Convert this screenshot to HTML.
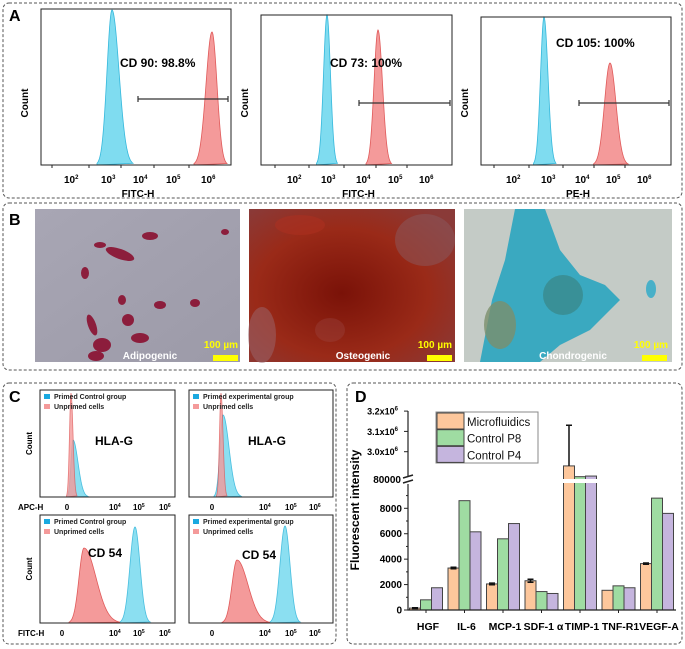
<!DOCTYPE html>
<html><head><meta charset="utf-8"><style>
html,body{margin:0;padding:0;background:#fff}
svg{display:block;font-family:"Liberation Sans",Arial,sans-serif}
.b{font-weight:bold}
</style></head><body>
<svg id="fig" width="685" height="649" viewBox="0 0 685 649">
<defs>
<radialGradient id="osteo" cx="45%" cy="55%" r="70%"><stop offset="0" stop-color="#7a1208"/><stop offset="0.6" stop-color="#9a2a18"/><stop offset="1" stop-color="#8a3a38"/></radialGradient>
<linearGradient id="adipo" x1="0" y1="0" x2="1" y2="1"><stop offset="0" stop-color="#a8a6b4"/><stop offset="1" stop-color="#9c9aa8"/></linearGradient>
</defs>
<rect x="3" y="3" width="679" height="195" rx="6" fill="none" stroke="#555" stroke-dasharray="3,2"/>
<rect x="3" y="203" width="679" height="167" rx="6" fill="none" stroke="#555" stroke-dasharray="3,2"/>
<rect x="3" y="383" width="333" height="261" rx="6" fill="none" stroke="#555" stroke-dasharray="3,2"/>
<rect x="347" y="383" width="335" height="261" rx="6" fill="none" stroke="#555" stroke-dasharray="3,2"/>
<text x="9" y="21" font-size="16" class="b">A</text>
<text x="9" y="225" font-size="16" class="b">B</text>
<text x="9" y="402" font-size="16" class="b">C</text>
<text x="355" y="402" font-size="16" class="b">D</text>

<g>
<rect x="35" y="209" width="205" height="153" fill="url(#adipo)"/>
<g fill="#8a1030" opacity="0.9">
<ellipse cx="150" cy="236" rx="8" ry="4"/><ellipse cx="120" cy="254" rx="15" ry="5" transform="rotate(20 120 254)"/><ellipse cx="85" cy="273" rx="4" ry="6"/>
<ellipse cx="92" cy="325" rx="4" ry="11" transform="rotate(-20 92 325)"/><ellipse cx="128" cy="320" rx="6" ry="6"/><ellipse cx="140" cy="338" rx="9" ry="5"/>
<ellipse cx="160" cy="305" rx="6" ry="4"/><ellipse cx="102" cy="345" rx="9" ry="7"/><ellipse cx="96" cy="356" rx="8" ry="5"/><ellipse cx="122" cy="300" rx="4" ry="5"/>
<ellipse cx="195" cy="303" rx="5" ry="4"/><ellipse cx="225" cy="232" rx="4" ry="3"/><ellipse cx="100" cy="245" rx="6" ry="3"/></g>
</g>
<g>
<rect x="249" y="209" width="206" height="153" fill="url(#osteo)"/>
<ellipse cx="425" cy="240" rx="30" ry="26" fill="#8a5a60" opacity="0.5"/>
<ellipse cx="262" cy="335" rx="14" ry="28" fill="#9a6870" opacity="0.5"/>
<ellipse cx="330" cy="330" rx="15" ry="12" fill="#a05050" opacity="0.3"/>
<ellipse cx="300" cy="225" rx="25" ry="10" fill="#b03020" opacity="0.5"/>
</g>
<g>
<rect x="464" y="209" width="208" height="153" fill="#c4cbc6"/>
<path d="M480,362 L492,300 L505,260 L515,209 L545,209 L560,250 L580,275 L605,285 L620,300 L590,330 L560,345 L540,362 Z" fill="#3aa9c0"/>
<ellipse cx="500" cy="325" rx="16" ry="24" fill="#7c8e6c" opacity="0.8"/>
<ellipse cx="563" cy="295" rx="20" ry="20" fill="#3a8a8c" opacity="0.8"/>
<ellipse cx="651" cy="289" rx="5" ry="9" fill="#48b0c8"/>
</g>
<g class="b" font-size="10">
<text x="150" y="359" fill="#fff" text-anchor="middle">Adipogenic</text>
<text x="363" y="359" fill="#fff" text-anchor="middle">Osteogenic</text>
<text x="573" y="359" fill="#fff" text-anchor="middle">Chondrogenic</text>
<text x="238" y="348" fill="#ffff00" text-anchor="end">100 µm</text>
<text x="452" y="348" fill="#ffff00" text-anchor="end">100 µm</text>
<text x="668" y="348" fill="#ffff00" text-anchor="end">100 µm</text>
<rect x="213" y="355" width="25" height="6" fill="#ffff00"/>
<rect x="427" y="355" width="25" height="6" fill="#ffff00"/>
<rect x="642" y="355" width="25" height="6" fill="#ffff00"/>
</g>

<g id="panelA"></g>
<g id="panelC"></g>
<g id="panelD"></g>
</svg>
<script>
const categories = ["HGF","IL-6","MCP-1","SDF-1 \u03b1","TIMP-1","TNF-R1","VEGF-A"];
const microfluidics = [150, 3300, 2050, 2300, 2930000, 1550, 3650];
const controlP8 = [800, 8600, 5600, 1450, 2877000, 1900, 8800];
const controlP4 = [1750, 6150, 6800, 1300, 2880000, 1750, 7600];
const microErr = [30, 60, 60, 120, 200000, 0, 50];
const lowTicks = [0, 2000, 4000, 6000, 8000];
const highTicks = [3000000, 3100000, 3200000];
const highTickLabels = ["3.0x10", "3.1x10", "3.2x10"];
const seriesNames = ["Microfluidics", "Control P8", "Control P4"];

const aCyanCenter = [112, 327, 544];
const aRedCenter = [212, 378, 610];
const aCyanTop = [10, 15, 17];
const aRedTop = [32, 30, 63];
const aLabels = ["CD 90: 98.8%", "CD 73: 100%", "CD 105: 100%"];
const aAxisNames = ["FITC-H", "FITC-H", "PE-H"];

const NS = "http://www.w3.org/2000/svg";
function mk(tag, attrs, parent, txt) {
  const e = document.createElementNS(NS, tag);
  for (const k in attrs) e.setAttribute(k, attrs[k]);
  if (txt !== undefined) e.textContent = txt;
  parent.appendChild(e);
  return e;
}
function peak(cx, top, base, sl, sr) {
  let d = "M" + (cx - sl * 3) + "," + base;
  for (let x = cx - sl * 3; x <= cx + sr * 3; x += 0.5) {
    const s = x < cx ? sl : sr;
    const y = base - (base - top) * Math.exp(-((x - cx) * (x - cx)) / (2 * s * s));
    d += " L" + x.toFixed(1) + "," + y.toFixed(1);
  }
  return d + " Z";
}

const A = document.getElementById("panelA");
const boxes = [[41, 9, 231], [261, 15, 452], [481, 17, 671]];
const tickX = [[68, 105, 137, 170, 205], [291, 325, 360, 392, 423], [510, 545, 579, 610, 641]];
const labelPos = [[120, 67], [330, 67], [556, 47]];
const gates = [[138, 99, 228], [359, 103, 450], [579, 103, 669]];
const cyanW = [[5, 7], [3.5, 3.5], [3.5, 4]];
const redW = [[6, 5], [4, 4.5], [5.5, 6]];
for (let i = 0; i < 3; i++) {
  const [x0, y0, x1] = boxes[i];
  const g = mk("g", {}, A);
  
  
  const cp = mk("path", { d: peak(aCyanCenter[i], aCyanTop[i], 165, cyanW[i][0], cyanW[i][1]), fill: "#7fdcf0", stroke: "#35b8dc", "stroke-width": 0.8 }, g);
  
  
  const rp = mk("path", { d: peak(aRedCenter[i], aRedTop[i], 165, redW[i][0], redW[i][1]), fill: "#f49a9a", stroke: "#e05a5a", "stroke-width": 0.8 }, g);
  
  
  mk("rect", { x: x0, y: y0, width: x1 - x0, height: 165 - y0, fill: "none", stroke: "#222", "stroke-width": 1 }, g);
  for (let t = 0; t < 5; t++) {
    const tx = mk("text", { x: tickX[i][t] - 4, y: 183, "font-size": 10, class: "b" }, g, "10");
    mk("tspan", { dy: -4, "font-size": 6 }, tx, String(t + 2));
    
    
    mk("line", { x1: tickX[i][t] - 16, y1: 165, x2: tickX[i][t] - 16, y2: 168, stroke: "#222" }, g);
  }
  const xt = mk("text", { x: (x0 + x1) / 2 + 2, y: 197, "font-size": 10, class: "b", "text-anchor": "middle" }, g, aAxisNames[i]);
  
  
  const yt = mk("text", { transform: "translate(" + (x0 - 13) + ",103) rotate(-90)", "font-size": 10, class: "b", "text-anchor": "middle" }, g, "Count");
  
  
  const lb = mk("text", { x: labelPos[i][0], y: labelPos[i][1], "font-size": 12, class: "b" }, g, aLabels[i]);
  
  
  const [gx0, gy, gx1] = gates[i];
  const gl = mk("path", { d: "M" + gx0 + "," + gy + " H" + gx1 + " M" + gx0 + "," + (gy - 3) + " V" + (gy + 3) + " M" + gx1 + "," + (gy - 3) + " V" + (gy + 3), stroke: "#333", "stroke-width": 1.2, fill: "none" }, g);
  
  
}

const C = document.getElementById("panelC");
const cBoxes = [[40, 390, 175, 497], [189, 390, 333, 497], [40, 515, 175, 623], [189, 515, 333, 623]];
const cLegend = ["Primed Control group", "Primed experimental group", "Primed Control group", "Primed experimental group"];
const cTicks = [[67, 113, 137, 163], [212, 263, 289, 313], [62, 113, 137, 163], [212, 263, 289, 313]];
const cMarker = ["HLA-G", "HLA-G", "CD 54", "CD 54"];
const cMarkerPos = [[95, 445], [248, 445], [88, 557], [242, 559]];
const cPeaks = [[71, 393, 1.5, 2, 73, 440, 2, 5], [221, 393, 1.5, 2, 223, 415, 3, 6], [84, 548, 5, 12, 135, 527, 5, 5], [237, 560, 5, 11, 285, 526, 5, 5]];
for (let i = 0; i < 4; i++) {
  const [x0, y0, x1, y1] = cBoxes[i];
  const p = cPeaks[i];
  const g = mk("g", {}, C);
  
  
  const cp = mk("path", { d: peak(p[4], p[5], y1, p[6], p[7]), fill: "#7fdcf0", stroke: "#35b8dc", "stroke-width": 0.8, opacity: 0.9 }, g);
  
  
  const rp = mk("path", { d: peak(p[0], p[1], y1, p[2], p[3]), fill: "#f49a9a", stroke: "#e05a5a", "stroke-width": 0.8, opacity: i < 2 ? 0.8 : 1 }, g);
  
  
  mk("rect", { x: x0, y: y0, width: x1 - x0, height: y1 - y0, fill: "none", stroke: "#222" }, g);
  mk("rect", { x: x0 + 4, y: y0 + 4, width: 6, height: 5, fill: "#1aa9e0" }, g);
  mk("rect", { x: x0 + 4, y: y0 + 14, width: 6, height: 5, fill: "#f49a9a" }, g);
  const l1 = mk("text", { x: x0 + 14, y: y0 + 9, "font-size": 7, class: "b", fill: "#222" }, g, cLegend[i]);
  
  
  const l2 = mk("text", { x: x0 + 14, y: y0 + 19, "font-size": 7, class: "b", fill: "#222" }, g, "Unprimed cells");
  
  
  const mt = mk("text", { x: cMarkerPos[i][0], y: cMarkerPos[i][1], "font-size": 12, class: "b" }, g, cMarker[i]);
  
  
  const ty = y1 + 13;
  const zero = mk("text", { x: cTicks[i][0], y: ty, "font-size": 8, class: "b", "text-anchor": "middle" }, g, "0");
  
  
  for (let t = 1; t < 4; t++) {
    const tx = mk("text", { x: cTicks[i][t] - 4, y: ty, "font-size": 8, class: "b" }, g, "10");
    mk("tspan", { dy: -3, "font-size": 5 }, tx, String(t + 3));
    
    
  }
  if (i % 2 === 0) {
    const yt = mk("text", { transform: "translate(" + (x0 - 8) + "," + ((y0 + y1) / 2) + ") rotate(-90)", "font-size": 8, class: "b", "text-anchor": "middle" }, g, "Count");
    
    
    const xt = mk("text", { x: 18, y: ty, "font-size": 8, class: "b" }, g, i === 0 ? "APC-H" : "FITC-H");
    
    
  }
}

const D = document.getElementById("panelD");
const AX = 408, BASE = 610;
function yLow(v) { return BASE - v * (BASE - 508.3) / 8000; }
function yHigh(v) { return 451.7 - (v - 3000000) * 203e-6; }
function yScale(v) { return v > 10000 ? yHigh(v) : yLow(v); }
function xGroup(i) { return 426 + i * 38.5; }
const colors = ["#fdc79c", "#9fdca2", "#c5b5de"];
const allSeries = [microfluidics, controlP8, controlP4];
for (let s = 0; s < 3; s++) {
  for (let i = 0; i < categories.length; i++) {
    const v = allSeries[s][i];
    const x = xGroup(i) - 16.5 + s * 11;
    const y = yScale(v);
    const r = mk("rect", { x: x, y: y, width: 11, height: BASE - y, fill: colors[s], stroke: "#444", "stroke-width": 1 }, D);
    
    
  }
}
for (let i = 0; i < categories.length; i++) {
  const v = microfluidics[i], e = microErr[i];
  if (!e) continue;
  const x = xGroup(i) - 11;
  const yt = yScale(v + e), yb = yScale(v - e);
  const eb = mk("path", { d: "M" + x + "," + yt + " V" + (v > 10000 ? yScale(v) : yb) + " M" + (x - 3) + "," + yt + " H" + (x + 3) + (v > 10000 ? "" : " M" + (x - 3) + "," + yb + " H" + (x + 3)), stroke: "#111", "stroke-width": 1.5, fill: "none" }, D);
  
  
}
const gap = mk("rect", { x: 562, y: 479, width: 38, height: 4, fill: "#fff" }, D);


const ax = mk("path", { d: "M" + AX + ",411 V477 M" + AX + ",484 V" + BASE + " H" + 676, stroke: "#222", "stroke-width": 1.2, fill: "none" }, D);


const brk = mk("path", { d: "M403,478 L413,475 M403,483 L413,480", stroke: "#222", "stroke-width": 1.5 }, D);


for (const t of lowTicks) {
  const y = yLow(t);
  mk("line", { x1: AX - 4, y1: y, x2: AX, y2: y, stroke: "#222" }, D);
  mk("line", { x1: AX - 2, y1: yLow(t + 1000), x2: AX, y2: yLow(t + 1000), stroke: "#222" }, D);
  const tl = mk("text", { x: AX - 6, y: y + 3.5, "font-size": 10, class: "b", "text-anchor": "end" }, D, String(t));
  
  
}
const t80 = mk("text", { x: AX - 7, y: 483, "font-size": 10, class: "b", "text-anchor": "end" }, D, "80000");


for (let k = 0; k < highTicks.length; k++) {
  const y = yHigh(highTicks[k]);
  mk("line", { x1: AX - 4, y1: y, x2: AX, y2: y, stroke: "#222" }, D);
  const tl = mk("text", { x: AX - 10, y: y + 3.5, "font-size": 9, class: "b", "text-anchor": "end" }, D, highTickLabels[k]);
  mk("tspan", { dy: -4, "font-size": 6 }, tl, "6");
  
  
}
for (let i = 0; i < categories.length; i++) {
  mk("line", { x1: xGroup(i), y1: BASE, x2: xGroup(i), y2: BASE + 3, stroke: "#222" }, D);
  const cl = mk("text", { x: xGroup(i) + 2, y: 630, "font-size": 10.5, class: "b", "text-anchor": "middle" }, D, categories[i]);
  
  
}
const yt = mk("text", { transform: "translate(359,510) rotate(-90)", "font-size": 12, class: "b", "text-anchor": "middle" }, D, "Fluorescent intensity");


const lg = mk("g", {}, D);


mk("rect", { x: 436, y: 412, width: 102, height: 51, fill: "#fff", stroke: "#888" }, lg);
for (let s = 0; s < 3; s++) {
  mk("rect", { x: 437, y: 413 + s * 16.7, width: 27, height: 16, fill: colors[s], stroke: "#444" }, lg);
  const le = mk("text", { x: 467, y: 426 + s * 16.7, "font-size": 11.5, fill: "#111" }, lg, seriesNames[s]);
  
  
}
</script>
</body></html>
